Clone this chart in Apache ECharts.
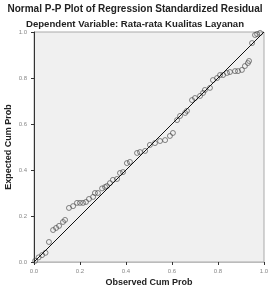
<!DOCTYPE html>
<html><head><meta charset="utf-8">
<script src="https://cdn.jsdelivr.net/npm/echarts@6/dist/echarts.min.js"></script>
<style>html,body{margin:0;padding:0;background:#fff}#c{width:270px;height:286px}</style>
</head><body><div id="c"></div>
<script>
const titleText = 'Normal P-P Plot of Regression Standardized Residual';
const subtitleText = 'Dependent Variable: Rata-rata Kualitas Layanan';
const xAxisName = 'Observed Cum Prob';
const yAxisName = 'Expected Cum Prob';
const tickValues = [0, 0.2, 0.4, 0.6, 0.8, 1.0];
const observedCumProb = [0.005,0.02,0.035,0.05,0.065,0.083,0.096,0.109,0.126,0.135,0.152,0.170,0.187,0.2,0.213,0.226,0.239,0.257,0.265,0.278,0.296,0.309,0.317,0.33,0.343,0.361,0.374,0.387,0.404,0.417,0.448,0.461,0.483,0.504,0.526,0.548,0.57,0.591,0.604,0.622,0.635,0.657,0.665,0.687,0.7,0.722,0.735,0.743,0.765,0.778,0.796,0.809,0.822,0.839,0.852,0.874,0.887,0.904,0.917,0.93,0.935,0.948,0.961,0.97,0.983];
const expectedCumProb = [0.005,0.02,0.03,0.04,0.087,0.139,0.148,0.157,0.174,0.183,0.235,0.243,0.257,0.257,0.257,0.261,0.274,0.283,0.30,0.30,0.32,0.326,0.33,0.343,0.357,0.361,0.387,0.391,0.43,0.435,0.474,0.478,0.483,0.509,0.517,0.526,0.53,0.548,0.561,0.617,0.635,0.648,0.657,0.704,0.713,0.722,0.735,0.748,0.757,0.791,0.8,0.813,0.813,0.822,0.826,0.83,0.83,0.835,0.852,0.865,0.874,0.952,0.987,0.991,0.996];
const refLine = [[0,0],[1,1]];

const pts = observedCumProb.map((x,i)=>[x, expectedCumProb[i]]);
const chart = echarts.init(document.getElementById('c'));
const axisCommon = {
  type:'value', min:0, max:1, interval:0.2,
  splitLine:{show:false},
  axisTick:{show:true, length:3, lineStyle:{color:'#333'}},
  axisLabel:{fontSize:6, color:'#888', fontFamily:'Liberation Sans', formatter:v=>v.toFixed(1)}
};
const nameStyle = {fill:'#222', font:'bold 9px "Liberation Sans"', textAlign:'center', textVerticalAlign:'middle'};
chart.setOption({
  animation:false,
  backgroundColor:'#fff',
  title:[
    {text:titleText, left:'center', top:-1, textStyle:{fontSize:10, fontWeight:'bold', color:'#222', fontFamily:'Liberation Sans'}},
    {text:subtitleText, left:'center', top:14, textStyle:{fontSize:9.6, fontWeight:'bold', color:'#222', fontFamily:'Liberation Sans'}}
  ],
  graphic:[
    {type:'text', x:9, y:147, rotation:Math.PI/2, style:Object.assign({text:yAxisName}, nameStyle)},
    {type:'text', x:149, y:283, style:Object.assign({text:xAxisName}, nameStyle)}
  ],
  grid:{left:34, right:6, top:32, bottom:24, outerBoundsMode:'none', containLabel:false, show:true, backgroundColor:'#f0f0f0', borderColor:'#aaa', borderWidth:1},
  xAxis:Object.assign({}, axisCommon, {
    axisLine:{show:true, lineStyle:{color:'#bbb'}},
    axisLabel:Object.assign({}, axisCommon.axisLabel, {margin:6})
  }),
  yAxis:Object.assign({}, axisCommon, {
    axisLine:{show:true, lineStyle:{color:'#333'}},
    axisLabel:Object.assign({}, axisCommon.axisLabel, {margin:7})
  }),
  series:[
    {type:'line', data:refLine, symbol:'none', lineStyle:{color:'#111', width:1}, silent:true},
    {type:'scatter', data:pts, symbol:'circle', symbolSize:5,
     itemStyle:{color:'rgba(0,0,0,0)', borderColor:'#444', borderWidth:0.8}}
  ]
});
</script></body></html>
